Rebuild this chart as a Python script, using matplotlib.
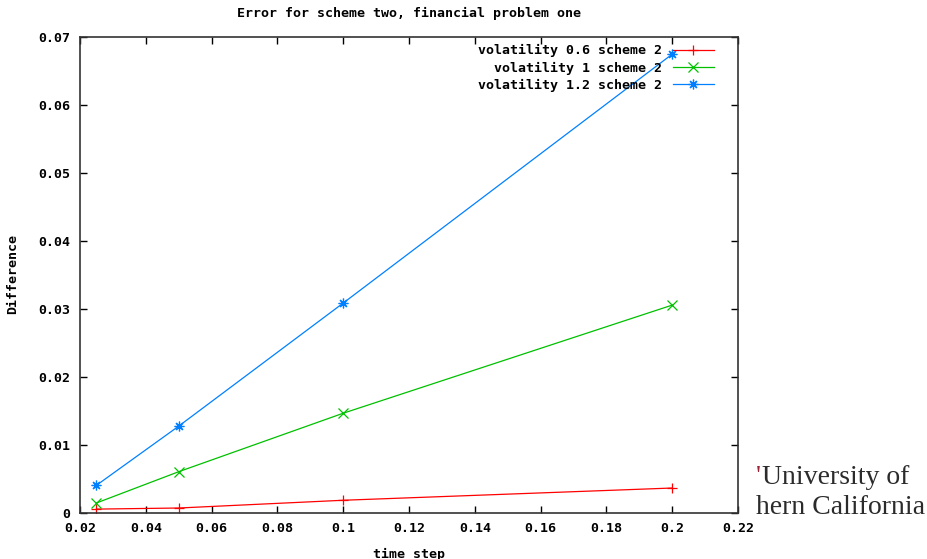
import matplotlib
matplotlib.use("Agg")
import matplotlib.pyplot as plt
from matplotlib.ticker import FormatStrFormatter

# time steps and errors for the three volatilities
time_step = [0.025, 0.05, 0.1, 0.2]
vol_06 = [0.0005, 0.00066, 0.0018, 0.0036]
vol_1 = [0.0014, 0.0060, 0.0146, 0.0305]
vol_12 = [0.0040, 0.0127, 0.0308, 0.0674]

labels = ["volatility 0.6 scheme 2", "volatility 1 scheme 2", "volatility 1.2 scheme 2"]
colors = ["#ff0000", "#00c000", "#0080ff"]
markers = ["+", "x", (8, 2, 0)]

x_ticks = [0.02, 0.04, 0.06, 0.08, 0.1, 0.12, 0.14, 0.16, 0.18, 0.2, 0.22]
y_ticks = [0, 0.01, 0.02, 0.03, 0.04, 0.05, 0.06, 0.07]


def main():
    mono = "DejaVu Sans Mono"
    fig = plt.figure(figsize=(9.27, 5.59), dpi=100)
    ax = fig.add_axes([80 / 927, 1 - 512.5 / 559, 658 / 927, 476 / 559])

    for ys, lab, c, m in zip([vol_06, vol_1, vol_12], labels, colors, markers):
        ax.plot(time_step, ys, color=c, lw=0.9, marker=m, markersize=7,
                markeredgewidth=0.9, label=lab)

    ax.set_xlim(0.02, 0.22)
    ax.set_ylim(0, 0.07)
    ax.set_xticks(x_ticks)
    ax.set_yticks(y_ticks)
    ax.xaxis.set_major_formatter(FormatStrFormatter("%g"))
    ax.yaxis.set_major_formatter(FormatStrFormatter("%g"))
    ax.tick_params(direction="in", length=5, width=1, top=True, right=True,
                   labelsize=9.5, pad=7)
    for lab in ax.get_xticklabels() + ax.get_yticklabels():
        lab.set_fontfamily(mono)
        lab.set_fontweight("bold")
    for sp in ax.spines.values():
        sp.set_color("#333333")
        sp.set_linewidth(1.2)

    ax.set_title("Error for scheme two, financial problem one", fontsize=9.5,
                 family=mono, fontweight="bold", pad=14)
    ax.set_xlabel("time step", fontsize=9.5, family=mono, fontweight="bold",
                  labelpad=9)
    ax.set_ylabel("Difference", fontsize=9.5, family=mono, fontweight="bold",
                  labelpad=14)

    ax.legend(loc="upper right", frameon=False, markerfirst=False,
              handlelength=3.1, handletextpad=0.8, labelspacing=0.3,
              borderaxespad=0.2, bbox_to_anchor=(0.975, 1.0),
              prop={"family": mono, "weight": "bold", "size": 9.5})

    # cropped logo text at bottom right
    fig.text(756 / 927, 1 - 478 / 559, "'", color="#9d2235", fontsize=20,
             family="Liberation Serif", va="center")
    fig.text(762 / 927, 1 - 478 / 559, "University of", color="#2b2b2b",
             fontsize=20, family="Liberation Serif", va="center")
    fig.text(756 / 927, 1 - 508 / 559, "hern California", color="#2b2b2b",
             fontsize=20, family="Liberation Serif", va="center")

    fig.savefig("out.png", dpi=100)


if __name__ == '__main__':
    main()
